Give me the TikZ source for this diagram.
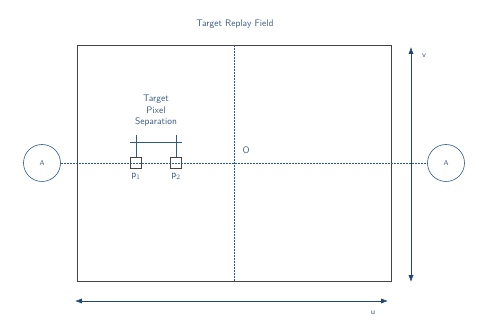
\documentclass[tikz,border=0pt]{standalone}
\usepackage{tikz}
\usetikzlibrary{arrows.meta,positioning,calc}
\definecolor{fieldblue}{HTML}{2E5A8C}
\definecolor{arrowblue}{HTML}{1F4674}
\definecolor{textblue}{HTML}{3A5A84}
\definecolor{framegray}{HTML}{444444}

\begin{document}
\begin{tikzpicture}[
  x=1pt, y=-1pt,
  font=\sffamily\fontsize{9.5}{11.5}\selectfont, text=textblue,
  field/.style={draw=framegray, line width=0.8pt, minimum width=314pt, minimum height=236pt, inner sep=0pt},
  aperture/.style={draw=fieldblue, circle, line width=0.6pt, minimum size=37pt, inner sep=0pt, font=\sffamily\scriptsize},
  pixel/.style={draw=framegray, line width=0.6pt, minimum size=11.5pt, inner sep=0pt},
  axis/.style={draw=fieldblue, dash pattern=on 0.6pt off 0.9pt, line width=0.6pt},
  bracket/.style={draw=fieldblue, line width=0.6pt},
  dimarr/.style={{Latex[length=2.4mm]}-{Latex[length=2.4mm]}, draw=arrowblue, line width=0.6pt}
]
\useasboundingbox (0,0) rectangle (479,336);

\node[field]    (replay) at (234,163) {};
\node[aperture] (apL)    at (42,163)  {A};
\node[aperture] (apR)    at (446,163) {A};
\node[pixel]    (pone)   at (136,163) {};
\node[pixel]    (ptwo)   at (176,163) {};

\node at (235,24) {Target Replay Field};
\node[align=center] (seplabel) at (156,111) {Target\\Pixel\\Separation};
\node[below=1pt of pone] (pa) {p$_1$};
\node[below=1pt of ptwo] (pb) {p$_2$};
\node (origin) at (246,150) {O};

% optical axes
\draw[axis] (apL.east) -- (apR.west);
\draw[axis] (replay.north) -- (replay.south);

% separation bracket
\coordinate (bl) at (130,142);
\coordinate (br) at (182,142);
\draw[bracket] (bl) -- (br);
\draw[bracket] (pone.north) -- ++(0,-22);
\draw[bracket] (ptwo.north) -- ++(0,-22);

% field dimensions
\coordinate (vtop) at (411,47);
\coordinate (vbot) at (411,282);
\coordinate (uleft) at (75,301);
\coordinate (uright) at (388,301);
\draw[dimarr] (vtop) -- (vbot);
\draw[dimarr] (uleft) -- (uright);
\node[font=\sffamily\footnotesize] (vlab) at (424,56) {v};
\node[font=\sffamily\footnotesize] (ulab) at (373,313) {u};
\end{tikzpicture}
\end{document}
